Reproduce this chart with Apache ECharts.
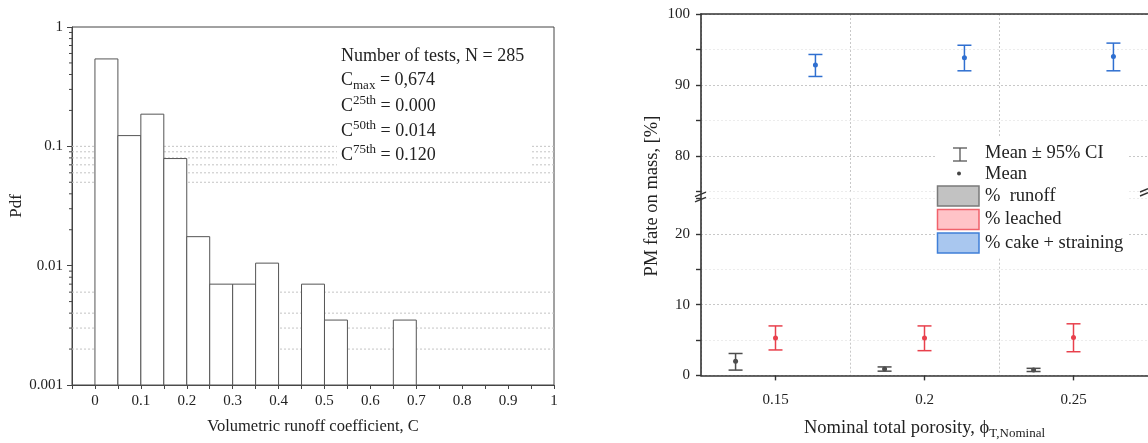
<!DOCTYPE html>
<html><head><meta charset="utf-8">
<script src="https://cdn.jsdelivr.net/npm/echarts@6/dist/echarts.min.js"></script>
<style>html,body{margin:0;padding:0;background:#fff}#c{width:1148px;height:443px}</style>
</head><body><div id="c"></div>
<script>
// ---------- Left panel: histogram of runoff coefficient ----------
const binStarts = [0, 0.05, 0.1, 0.15, 0.2, 0.25, 0.3, 0.35, 0.45, 0.5, 0.65];
const binWidth = 0.05;
const pdfValues = [0.54, 0.123, 0.186, 0.079, 0.0175, 0.007, 0.007, 0.0105, 0.007, 0.0035, 0.0035];
const pdfMinorTicks = [0.002,0.003,0.004,0.005,0.006,0.007,0.008,0.009,
                       0.02,0.03,0.04,0.05,0.06,0.07,0.08,0.09,
                       0.2,0.3,0.4,0.5,0.6,0.7,0.8,0.9];
const pdfDottedLines = [0.1, 0.09, 0.08, 0.07, 0.06, 0.05, 0.006, 0.004, 0.003, 0.002];
const leftXMin = -0.05, leftXMax = 1;
const statsText = [
  '{t|Number of tests, N = 285}',
  '{t|C}{sub|max}{t| = 0,674}',
  '{t|C}{sup|25th}{t| = 0.000}',
  '{t|C}{sup|50th}{t| = 0.014}',
  '{t|C}{sup|75th}{t| = 0.120}'
];

// ---------- Right panel: PM fate on mass ----------
const porosityCategories = ['0.15', '0.2', '0.25'];
const runoffMean = [2.0, 0.9, 0.75];
const runoffLow  = [0.75, 0.6, 0.55];
const runoffHigh = [3.1, 1.2, 1.0];
const leachedMean = [5.3, 5.3, 5.35];
const leachedLow  = [3.6, 3.5, 3.35];
const leachedHigh = [7.0, 7.0, 7.3];
const cakeMean = [92.8, 93.85, 94.0];
const cakeLow  = [91.2, 92.0, 92.0];
const cakeHigh = [94.3, 95.6, 95.9];

const SERIF = '"Liberation Serif","DejaVu Serif",serif';
const TXT = '#222';

function rows(mean, lo, hi) {
  return porosityCategories.map((c, i) => [i, mean[i], lo[i], hi[i]]);
}

function errorBar(color, dodge) {
  return function (params, api) {
    const c = api.value(0);
    const mid = api.coord([c, api.value(1)]);
    const lo = api.coord([c, api.value(2)]);
    const hi = api.coord([c, api.value(3)]);
    const bw = api.size([1, 0])[0];
    const x = mid[0] + dodge * bw;
    const cap = 7;
    const st = { stroke: color, lineWidth: 1.5 };
    return { type: 'group', children: [
      { type: 'line', shape: { x1: x, y1: hi[1], x2: x, y2: lo[1] }, style: st },
      { type: 'line', shape: { x1: x - cap, y1: hi[1], x2: x + cap, y2: hi[1] }, style: st },
      { type: 'line', shape: { x1: x - cap, y1: lo[1], x2: x + cap, y2: lo[1] }, style: st },
      { type: 'circle', shape: { cx: x, cy: mid[1], r: 2.5 }, style: { fill: color } }
    ]};
  };
}

const chart = echarts.init(document.getElementById('c'), null, { renderer: 'canvas' });

const upperTop = 14, upperH = 177.5, lowerTop = 198.7, lowerH = 176.7, rLeft = 701, rWidth = 449;

const option = {
  backgroundColor: '#fff',
  animation: false,
  textStyle: { fontFamily: SERIF, color: TXT },
  grid: [
    { left: 72, top: 27, right: 594, bottom: 58, show: true, borderColor: '#444', borderWidth: 1, backgroundColor: 'transparent' },
    { left: rLeft, top: upperTop, width: rWidth, height: upperH },
    { left: rLeft, top: lowerTop, width: rWidth, height: lowerH }
  ],
  xAxis: [
    { gridIndex: 0, type: 'value', min: leftXMin, max: leftXMax, interval: 0.05,
      axisLine: { show: true, onZero: false, lineStyle: { color: '#444', width: 1 } },
      axisTick: { show: true, length: 4, lineStyle: { color: '#444' } },
      axisLabel: { margin: 9, fontSize: 15, fontFamily: SERIF, color: TXT,
        formatter: v => { const k = Math.round(v * 100); return (k >= 0 && k % 10 === 0) ? String(k / 100) : ''; } },
      splitLine: { show: false },
      name: 'Volumetric runoff coefficient, C', nameLocation: 'middle', nameGap: 33,
      nameTextStyle: { fontSize: 16.5, fontFamily: SERIF, color: TXT } },
    { gridIndex: 1, type: 'category', data: porosityCategories, position: 'top', boundaryGap: true,
      axisLine: { show: true, onZero: false, lineStyle: { color: '#333', width: 1.6 } },
      axisTick: { show: false }, axisLabel: { show: false },
      splitLine: { show: true, lineStyle: { color: '#c8c8c8', type: [2, 2], width: 1 } } },
    { gridIndex: 2, type: 'category', data: porosityCategories, position: 'bottom', boundaryGap: true,
      axisLine: { show: true, onZero: false, lineStyle: { color: '#333', width: 1.6 } },
      axisTick: { show: true, alignWithLabel: true, length: 5, lineStyle: { color: '#333', width: 1.4 } },
      axisLabel: { margin: 17, fontSize: 15, fontFamily: SERIF, color: TXT },
      splitLine: { show: true, lineStyle: { color: '#c8c8c8', type: [2, 2], width: 1 } },
      name: '{a|Nominal total porosity, ϕ}{s|T,Nominal}', nameLocation: 'middle', nameGap: 41,
      nameTextStyle: { rich: {
        a: { fontSize: 18.5, fontFamily: SERIF, color: TXT },
        s: { fontSize: 13, fontFamily: SERIF, color: TXT, padding: [11, 0, 0, 0] } } } }
  ],
  yAxis: [
    { gridIndex: 0, type: 'log', logBase: 10, min: 0.001, max: 1,
      axisLine: { show: true, onZero: false, lineStyle: { color: '#444', width: 1 } },
      axisTick: { show: true, length: 5, lineStyle: { color: '#444' } },
      axisLabel: { margin: 9, fontSize: 15, fontFamily: SERIF, color: TXT,
        formatter: v => String(+(+v).toPrecision(3)) },
      splitLine: { show: false } },
    { gridIndex: 1, type: 'value', min: 75, max: 100, interval: 5,
      axisLine: { show: true, onZero: false, lineStyle: { color: '#333', width: 1.6 } },
      axisTick: { show: true, length: 5, lineStyle: { color: '#333', width: 1.4 } },
      axisLabel: { margin: 11, fontSize: 15, fontFamily: SERIF, color: TXT,
        formatter: v => (Math.round(v) % 10 === 0 ? String(Math.round(v)) : '') },
      splitLine: { show: true, lineStyle: { color: ['#ececec', '#c8c8c8'], type: [2, 2], width: 1 } } },
    { gridIndex: 2, type: 'value', min: 0, max: 25, interval: 5,
      axisLine: { show: true, onZero: false, lineStyle: { color: '#333', width: 1.6 } },
      axisTick: { show: true, length: 5, lineStyle: { color: '#333', width: 1.4 } },
      axisLabel: { margin: 11, fontSize: 15, fontFamily: SERIF, color: TXT,
        formatter: v => (Math.round(v) % 10 === 0 ? String(Math.round(v)) : '') },
      splitLine: { show: true, lineStyle: { color: ['#c8c8c8', '#ececec'], type: [2, 2], width: 1 } } }
  ],
  series: [
    { type: 'custom', name: 'dotted', xAxisIndex: 0, yAxisIndex: 0, z: 1, silent: true,
      data: pdfDottedLines.map(v => [leftXMin, v]), encode: { x: 0, y: 1 },
      renderItem: (params, api) => {
        const cs = params.coordSys;
        const p = api.coord([api.value(0), api.value(1)]);
        return { type: 'line', shape: { x1: cs.x, y1: p[1], x2: cs.x + cs.width, y2: p[1] },
          style: { stroke: '#c4c4c4', lineWidth: 1, lineDash: [2, 2] } };
      } },
    { type: 'custom', name: 'histogram', xAxisIndex: 0, yAxisIndex: 0, z: 3,
      data: binStarts.map((s, i) => [s, s + binWidth, pdfValues[i]]), encode: { x: [0, 1], y: 2 },
      renderItem: (params, api) => {
        const p0 = api.coord([api.value(0), api.value(2)]);
        const p1 = api.coord([api.value(1), 0.001]);
        return { type: 'rect', shape: { x: p0[0], y: p0[1], width: p1[0] - p0[0], height: p1[1] - p0[1] },
          style: { fill: '#fff', stroke: '#555', lineWidth: 1 } };
      } },
    { type: 'custom', name: 'minorTicks', xAxisIndex: 0, yAxisIndex: 0, z: 4, silent: true, clip: false,
      data: pdfMinorTicks.map(v => [leftXMin, v]), encode: { x: 0, y: 1 },
      renderItem: (params, api) => {
        const p = api.coord([api.value(0), api.value(1)]);
        return { type: 'line', shape: { x1: p[0] - 3, y1: p[1], x2: p[0], y2: p[1] },
          style: { stroke: '#444', lineWidth: 1 } };
      } },
    { type: 'custom', name: '% runoff', xAxisIndex: 2, yAxisIndex: 2, z: 5, clip: false,
      data: rows(runoffMean, runoffLow, runoffHigh), encode: { x: 0, y: [1, 2, 3] },
      renderItem: errorBar('#4d4d4d', -0.268) },
    { type: 'custom', name: '% leached', xAxisIndex: 2, yAxisIndex: 2, z: 5, clip: false,
      data: rows(leachedMean, leachedLow, leachedHigh), encode: { x: 0, y: [1, 2, 3] },
      renderItem: errorBar('#e8404c', 0) },
    { type: 'custom', name: '% cake + straining', xAxisIndex: 1, yAxisIndex: 1, z: 5, clip: false,
      data: rows(cakeMean, cakeLow, cakeHigh), encode: { x: 0, y: [1, 2, 3] },
      renderItem: errorBar('#2f6fd0', 0.268) }
  ],
  graphic: [
    // stats box (left panel)
    { type: 'rect', z: 100, silent: true, shape: { x: 337, y: 40, width: 195, height: 128 }, style: { fill: '#fff' } },
    ...statsText.map((t, i) => ({
      type: 'text', z: 101, x: 341, y: [56, 80, 106, 131, 155][i],
      style: { text: t, verticalAlign: 'middle', align: 'left',
        rich: {
          t: { fontSize: 18, fontFamily: SERIF, fill: TXT },
          sub: { fontSize: 13, fontFamily: SERIF, fill: TXT, padding: [11, 0, 0, 0] },
          sup: { fontSize: 13, fontFamily: SERIF, fill: TXT, padding: [0, 0, 11, 0] }
        } } })),
    // y-axis titles
    { type: 'text', z: 101, x: 17, y: 206, rotation: Math.PI / 2,
      style: { text: 'Pdf', font: '17px ' + SERIF, fill: TXT, align: 'center', verticalAlign: 'middle' } },
    { type: 'text', z: 101, x: 652, y: 196, rotation: Math.PI / 2,
      style: { text: 'PM fate on mass, [%]', font: '18.5px ' + SERIF, fill: TXT, align: 'center', verticalAlign: 'middle' } },
    // axis break
    { type: 'line', z: 101, shape: { x1: rLeft, y1: upperTop + upperH, x2: rLeft, y2: lowerTop }, style: { stroke: '#333', lineWidth: 1.6 } },
    { type: 'line', z: 102, shape: { x1: 695, y1: 196.7, x2: 706, y2: 192.2 }, style: { stroke: '#333', lineWidth: 1.4 } },
    { type: 'line', z: 102, shape: { x1: 695, y1: 201.8, x2: 706, y2: 197.3 }, style: { stroke: '#333', lineWidth: 1.4 } },
    { type: 'line', z: 102, shape: { x1: 1140, y1: 192, x2: 1148, y2: 188.7 }, style: { stroke: '#333', lineWidth: 1.4 } },
    { type: 'line', z: 102, shape: { x1: 1140, y1: 196, x2: 1148, y2: 192.7 }, style: { stroke: '#333', lineWidth: 1.4 } },
    // legend (right panel)
    { type: 'rect', z: 100, silent: true, shape: { x: 935, y: 137, width: 192, height: 121 }, style: { fill: '#fff' } },
    { type: 'line', z: 101, shape: { x1: 960, y1: 148, x2: 960, y2: 161 }, style: { stroke: '#555', lineWidth: 1.3 } },
    { type: 'line', z: 101, shape: { x1: 953, y1: 148, x2: 967, y2: 148 }, style: { stroke: '#555', lineWidth: 1.3 } },
    { type: 'line', z: 101, shape: { x1: 953, y1: 161, x2: 967, y2: 161 }, style: { stroke: '#555', lineWidth: 1.3 } },
    { type: 'circle', z: 101, shape: { cx: 959, cy: 173.5, r: 2 }, style: { fill: '#444' } },
    { type: 'rect', z: 101, shape: { x: 937.5, y: 186, width: 41.5, height: 20 }, style: { fill: '#c2c2c2', stroke: '#7a7a7a', lineWidth: 1.5 } },
    { type: 'rect', z: 101, shape: { x: 937.5, y: 209.5, width: 41.5, height: 20 }, style: { fill: '#ffc3c7', stroke: '#f0626b', lineWidth: 1.5 } },
    { type: 'rect', z: 101, shape: { x: 937.5, y: 233, width: 41.5, height: 20 }, style: { fill: '#a9c7ef', stroke: '#3f7fd8', lineWidth: 1.5 } },
    ...[['Mean ± 95% CI', 153], ['Mean', 174], ['%  runoff', 196], ['% leached', 219.5], ['% cake + straining', 243]].map(([t, y]) => ({
      type: 'text', z: 101, x: 985, y: y,
      style: { text: t, font: '18.5px ' + SERIF, fill: TXT, align: 'left', verticalAlign: 'middle' } }))
  ]
};
chart.setOption(option);
</script>
</body></html>
